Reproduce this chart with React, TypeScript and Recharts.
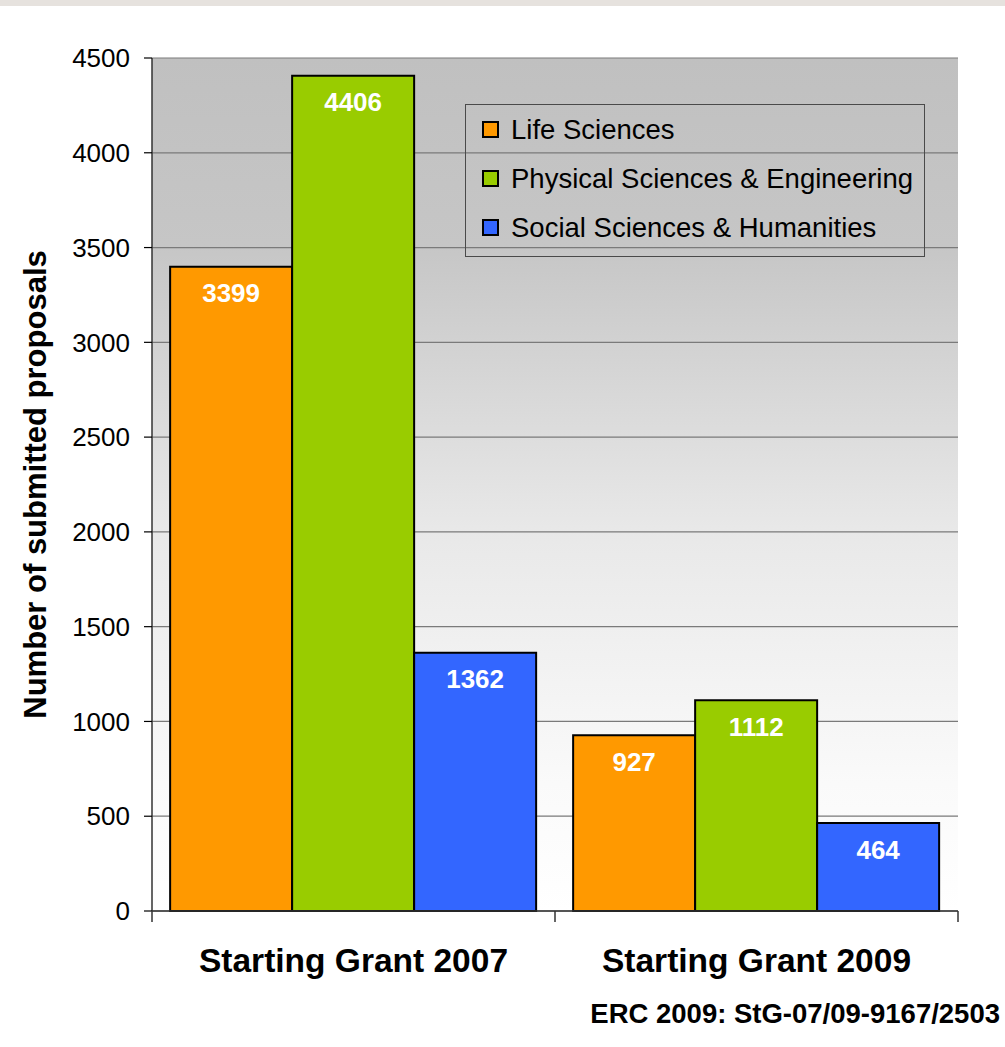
import { BarChart, Bar, XAxis, YAxis, CartesianGrid, Legend, LabelList } from 'recharts';

const categories = ['Starting Grant 2007', 'Starting Grant 2009'];
const lifeSciences = [3399, 927];
const physicalSciences = [4406, 1112];
const socialSciences = [1362, 464];
const yTicks = [0, 500, 1000, 1500, 2000, 2500, 3000, 3500, 4000, 4500];

const seriesInfo = [
  { key: 'ls', name: 'Life Sciences', color: '#ff9900' },
  { key: 'pe', name: 'Physical Sciences & Engineering', color: '#99cc00' },
  { key: 'sh', name: 'Social Sciences & Humanities', color: '#3366ff' },
];

const data = categories.map((cat, i) => ({
  cat,
  ls: lifeSciences[i],
  pe: physicalSciences[i],
  sh: socialSciences[i],
}));

const W = 1005;
const H = 1047;
const M = { top: 58, right: 47, left: 0, bottom: 56 };
const Y_W = 152;
const PLOT_W = W - M.left - M.right - Y_W;
const FONT = '"Liberation Sans", Arial, sans-serif';

// eslint-disable-next-line @typescript-eslint/no-explicit-any
const CatTick = ({ x, y, payload, index }: any) => {
  const half = PLOT_W / categories.length / 2;
  return (
    <g>
      {index === 0 && <line x1={x - half} x2={x - half} y1={y - 8} y2={y + 3} stroke="#333" strokeWidth={1.5} />}
      <line x1={x + half} x2={x + half} y1={y - 8} y2={y + 3} stroke="#333" strokeWidth={1.5} />
      <text x={x} y={y + 53} textAnchor="middle" fontFamily={FONT} fontWeight="bold" fontSize={33.5} fill="#000">
        {payload.value}
      </text>
    </g>
  );
};

// eslint-disable-next-line @typescript-eslint/no-explicit-any
const YTitle = ({ viewBox }: any) => {
  const cx = viewBox.x + 35;
  const cy = viewBox.y + viewBox.height / 2;
  return (
    <text
      x={cx}
      y={cy}
      transform={`rotate(-90 ${cx} ${cy})`}
      textAnchor="middle"
      dominantBaseline="central"
      fontFamily={FONT}
      fontWeight="bold"
      fontSize={31}
      fill="#000"
    >
      Number of submitted proposals
    </text>
  );
};

const LegendBox = () => (
  <div
    style={{
      border: '1.5px solid #4a4a4a',
      padding: '0 0 0 16px',
      fontFamily: FONT,
      fontSize: 27.5,
      color: '#000',
      boxSizing: 'border-box',
      width: 460,
      height: 153,
    }}
  >
    {seriesInfo.map((s) => (
      <div key={s.key} style={{ display: 'flex', alignItems: 'center', height: 49 }}>
        <span
          style={{
            display: 'inline-block',
            width: 13,
            height: 13,
            background: s.color,
            border: '2px solid #000',
            marginRight: 12,
          }}
        />
        <span>{s.name}</span>
      </div>
    ))}
  </div>
);

export default function App() {
  return (
    <div style={{ position: 'relative', width: W, height: H, background: '#fff', overflow: 'hidden' }}>
      <style>{'body{margin:0}'}</style>
      <div style={{ position: 'absolute', left: 0, top: 0, width: W, height: 6, background: '#e6e2de' }} />
      <BarChart
        width={W}
        height={H}
        data={data}
        margin={M}
        barCategoryGap="4.5%"
        barGap={0}
      >
        <defs>
          <linearGradient id="plotBg" x1="0" y1="0" x2="0" y2="1">
            <stop offset="0%" stopColor="#c0c0c0" />
            <stop offset="22%" stopColor="#c6c6c6" />
            <stop offset="55%" stopColor="#e8e8e8" />
            <stop offset="85%" stopColor="#fafafa" />
            <stop offset="100%" stopColor="#ffffff" />
          </linearGradient>
        </defs>
        <CartesianGrid vertical={false} stroke="#7a7a7a" strokeWidth={1.2} fill="url(#plotBg)" fillOpacity={1} />
        <XAxis
          dataKey="cat"
          height={80}
          axisLine={{ stroke: '#333', strokeWidth: 1.5 }}
          tickLine={false}
          tick={<CatTick />}
          interval={0}
        />
        <YAxis
          width={Y_W}
          domain={[0, 4500]}
          ticks={yTicks}
          interval={0}
          tickSize={8}
          tickMargin={14}
          axisLine={{ stroke: '#333', strokeWidth: 1.5 }}
          tickLine={{ stroke: '#000', strokeWidth: 1.2 }}
          tick={{ fill: '#000', fontSize: 26, fontFamily: FONT }}
          label={<YTitle />}
        />
        <YAxis
          yAxisId="right"
          orientation="right"
          width={0}
          domain={[0, 4500]}
          tick={false}
          tickLine={false}
          axisLine={{ stroke: '#7a7a7a', strokeWidth: 2 }}
        />
        <Legend
          content={<LegendBox />}
          layout="horizontal"
          verticalAlign="middle"
          align="center"
          wrapperStyle={{ position: 'absolute', top: 104, left: 465, width: 460, height: 153 }}
        />
        {seriesInfo.map((s) => (
          <Bar key={s.key} dataKey={s.key} name={s.name} fill={s.color} stroke="#000" strokeWidth={2} isAnimationActive={false}>
            <LabelList
              dataKey={s.key}
              position="insideTop"
              offset={17}
              fill="#fff"
              fontSize={26}
              fontWeight="bold"
              fontFamily={FONT}
            />
          </Bar>
        ))}
      </BarChart>
      <div
        style={{
          position: 'absolute',
          right: 5,
          top: 998,
          fontFamily: FONT,
          fontWeight: 'bold',
          fontSize: 27.5,
          color: '#000',
          whiteSpace: 'nowrap',
        }}
      >
        ERC 2009: StG-07/09-9167/2503
      </div>
    </div>
  );
}
